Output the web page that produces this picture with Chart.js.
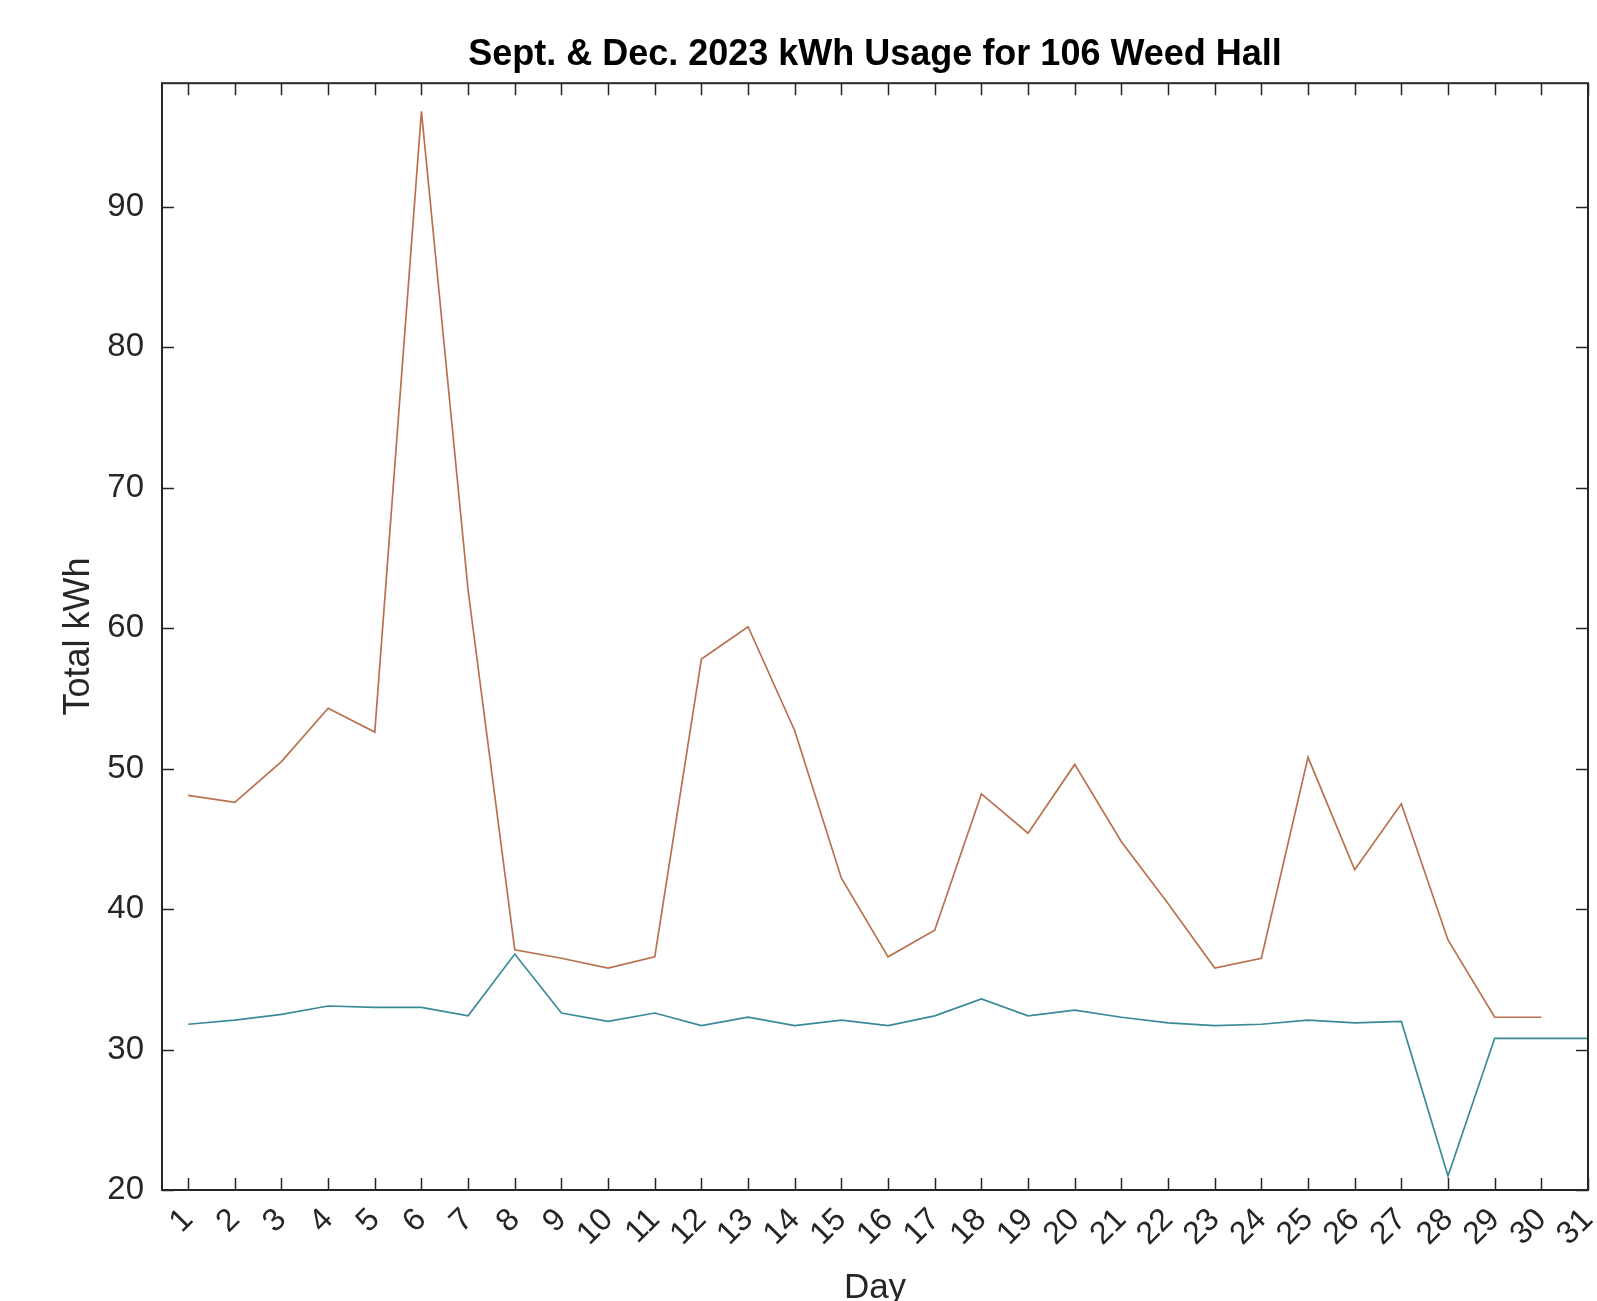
<!DOCTYPE html>
<html>
<head>
<meta charset="utf-8">
<title>Sept. & Dec. 2023 kWh Usage for 106 Weed Hall</title>
<script src="https://cdn.jsdelivr.net/npm/chart.js@4.4.0/dist/chart.umd.min.js"></script>
<style>
  html, body { margin: 0; padding: 0; background: #fff; }
  #wrap { width: 1597px; height: 1301px; }
</style>
</head>
<body>
<div id="wrap"><canvas id="kwhChart" width="1597" height="1301"></canvas></div>
<script>
// x axis: day of month
var days = [1, 2, 3, 4, 5, 6, 7, 8, 9, 10, 11, 12, 13, 14, 15, 16,
            17, 18, 19, 20, 21, 22, 23, 24, 25, 26, 27, 28, 29, 30, 31];

// September (30 days) - orange line
var septKwh = [48.1, 47.6, 50.5, 54.3, 52.6, 96.8, 62.7, 37.1, 36.5, 35.8,
               36.6, 57.8, 60.1, 52.7, 42.2, 36.6, 38.5, 48.2, 45.4, 50.3,
               44.8, 40.4, 35.8, 36.5, 50.8, 42.8, 47.5, 37.8, 32.3, 32.3];

// December (31 days) - blue line
var decKwh = [31.8, 32.1, 32.5, 33.1, 33.0, 33.0, 32.4, 36.8, 32.6, 32.0,
              32.6, 31.7, 32.3, 31.7, 32.1, 31.7, 32.4, 33.6, 32.4, 32.8,
              32.3, 31.9, 31.7, 31.8, 32.1, 31.9, 32.0, 21.0, 30.8, 30.8, 30.8];

var yTicks = [20, 30, 40, 50, 60, 70, 80, 90];

var fam = '"Liberation Sans", Arial, Helvetica, sans-serif';
var axisColor = '#262626';

function toPoints(vals) {
    return vals.map(function (v, i) { return { x: days[i], y: v }; });
}

// box round the plot with inward ticks on all four sides (matlab style)
var frameTicks = {
    id: 'frameTicks',
    afterDatasetsDraw: function (chart) {
        var ctx = chart.ctx;
        var a = chart.chartArea;
        var sx = chart.scales.x;
        var sy = chart.scales.y;
        var len = 12;
        ctx.save();
        ctx.strokeStyle = axisColor;
        ctx.lineWidth = 1.5;
        ctx.beginPath();
        sx.ticks.forEach(function (t) {
            var px = Math.round(sx.getPixelForValue(t.value)) + 0.5;
            ctx.moveTo(px, a.bottom);
            ctx.lineTo(px, a.bottom - len);
            ctx.moveTo(px, a.top);
            ctx.lineTo(px, a.top + len);
        });
        sy.ticks.forEach(function (t) {
            var py = Math.round(sy.getPixelForValue(t.value)) + 0.5;
            ctx.moveTo(a.left, py);
            ctx.lineTo(a.left + len, py);
            ctx.moveTo(a.right, py);
            ctx.lineTo(a.right - len, py);
        });
        ctx.stroke();
        ctx.lineWidth = 2;
        ctx.strokeRect(a.left, a.top, a.right - a.left, a.bottom - a.top);
        ctx.restore();
    }
};

var ctx = document.getElementById('kwhChart').getContext('2d');
var chart = new Chart(ctx, {
    type: 'line',
    data: {
        datasets: [
            {
                label: 'December',
                data: toPoints(decKwh),
                borderColor: '#3b8a99',
                borderWidth: 1.7,
                pointRadius: 0,
                tension: 0,
                fill: false
            },
            {
                label: 'September',
                data: toPoints(septKwh),
                borderColor: '#b9714f',
                borderWidth: 1.7,
                pointRadius: 0,
                tension: 0,
                fill: false
            }
        ]
    },
    options: {
        responsive: false,
        animation: false,
        events: [],
        layout: { padding: { left: 0, top: 0, right: 9, bottom: 0 } },
        plugins: {
            legend: { display: false },
            tooltip: { enabled: false },
            title: {
                display: true,
                fullSize: false,
                text: 'Sept. & Dec. 2023 kWh Usage for 106 Weed Hall',
                color: '#000',
                font: { family: fam, size: 36, weight: 'bold' },
                padding: { top: 33, bottom: 7 }
            }
        },
        scales: {
            x: {
                type: 'linear',
                min: 0.44,
                max: 31,
                grid: { display: false, drawTicks: false },
                border: { display: false },
                afterBuildTicks: function (scale) {
                    scale.ticks = days.map(function (d) { return { value: d }; });
                },
                afterFit: function (scale) {
                    scale.height = 111;
                    scale.paddingLeft = 0;
                    scale.paddingRight = 0;
                },
                ticks: {
                    autoSkip: false,
                    minRotation: 45,
                    maxRotation: 45,
                    padding: 11,
                    color: axisColor,
                    font: { family: fam, size: 32 },
                    callback: function (v) { return String(v); }
                },
                title: {
                    display: true,
                    text: 'Day',
                    color: axisColor,
                    font: { family: fam, size: 35 },
                    padding: { top: 0, bottom: -8 }
                }
            },
            y: {
                min: 20,
                max: 98.8,
                grid: { display: false, drawTicks: false },
                border: { display: false },
                afterBuildTicks: function (scale) {
                    scale.ticks = yTicks.map(function (v) { return { value: v }; });
                },
                afterFit: function (scale) {
                    scale.width = 162;
                    scale.paddingTop = 0;
                    scale.paddingBottom = 0;
                },
                ticks: {
                    padding: 18,
                    color: axisColor,
                    font: { family: fam, size: 33 }
                },
                title: {
                    display: true,
                    text: 'Total kWh',
                    color: axisColor,
                    font: { family: fam, size: 36 },
                    padding: { top: 57, bottom: 0 }
                }
            }
        }
    },
    plugins: [frameTicks]
});
</script>
</body>
</html>
